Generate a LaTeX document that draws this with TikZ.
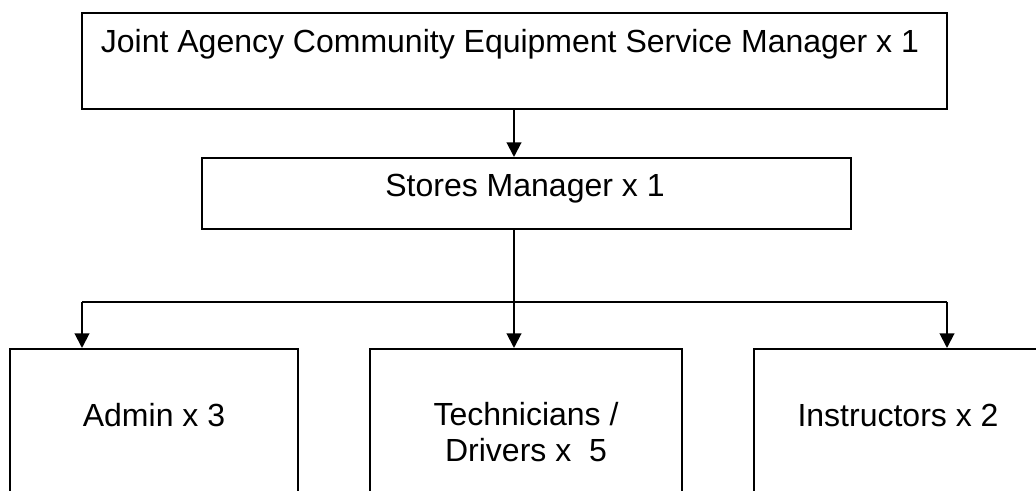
\documentclass[tikz,border=0pt]{standalone}
\usepackage{fontspec}
\setmainfont{Liberation Sans}
\usetikzlibrary{fit,arrows.meta}
\begin{document}
\begin{tikzpicture}[x=0.75pt,y=-0.75pt,
  boxnode/.style={draw=black,line width=1.5pt,inner sep=0pt},
  boxtext/.style={anchor=base,inner sep=0pt,font=\fontsize{24pt}{27pt}\selectfont,align=center},
  link/.style={line width=1.5pt},
  arrowlink/.style={link,-{Triangle[width=11pt,length=11pt]}}]
\useasboundingbox (0,0) rectangle (1036,491);
\clip (0,0) rectangle (1036,491);

% boxes
\node[boxnode,fit={(82,13.5) (947,109)}] (top) {};
\node[boxnode,fit={(202,158) (851,229)}] (stores) {};
\node[boxnode,fit={(10,349) (298,520)}] (admin) {};
\node[boxnode,fit={(370,349) (682,520)}] (tech) {};
\node[boxnode,fit={(754,349) (1042,520)}] (instr) {};

% texts
\node[boxtext] (topT) at (510,53) {Joint Agency Community Equipment Service Manager x 1};
\node[boxtext] (storesT) at (525,197) {Stores Manager x 1};
\node[boxtext] (adminT) at (154,427) {Admin x 3};
\node[boxtext,anchor=north] (techT) at (526,402) {Technicians /\\Drivers x\ \ 5};
\node[boxtext] (instrT) at (898,427) {Instructors x 2};

% bus line
\coordinate (busL) at (82,302);
\coordinate (busM) at (514,302);
\coordinate (busR) at (947,302);

% connectors
\draw[arrowlink] (top.south -| busM) -- (stores.north -| busM);
\draw[link] (stores.south -| busM) -- (busM);
\draw[link] (busL) -- (busR);
\draw[arrowlink] (busL) -- (admin.north -| busL);
\draw[arrowlink] (busM) -- (tech.north -| busM);
\draw[arrowlink] (busR) -- (instr.north -| busR);
\end{tikzpicture}
\end{document}
